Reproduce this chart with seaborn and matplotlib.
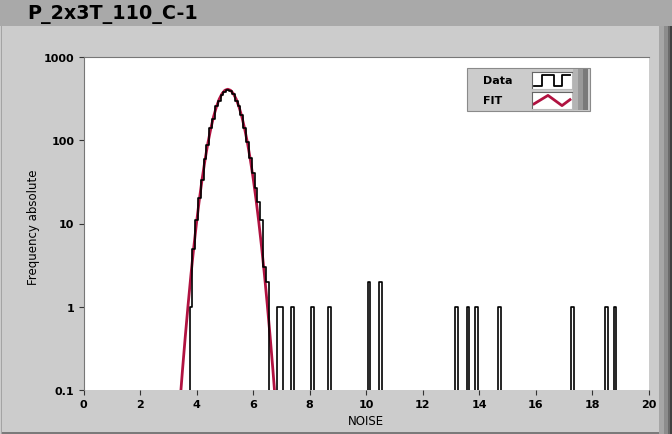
import matplotlib
matplotlib.use("Agg")
import matplotlib.pyplot as plt
from matplotlib.patches import Rectangle
from matplotlib.ticker import NullLocator
import pandas as pd
import seaborn as sns

# ---------------------------------------------------------------------------
# Data
# ---------------------------------------------------------------------------

# Histogram bins (centres, bin width 0.1) and absolute frequencies
noise_bins = [3.8, 3.9, 4.0, 4.1, 4.2, 4.3, 4.4, 4.5, 4.6, 4.7,
              4.8, 4.9, 5.0, 5.1, 5.2, 5.3, 5.4, 5.5, 5.6, 5.7,
              5.8, 5.9, 6.0, 6.1, 6.2, 6.3, 6.4, 6.5,
              6.9, 7.0, 7.4, 8.1, 8.7, 10.1, 10.5,
              13.2, 13.6, 13.9, 14.7, 17.3, 18.5, 18.8]
noise_counts = [1, 5, 11, 20, 33, 60, 88, 140, 180, 255,
                300, 350, 385, 405, 395, 360, 300, 255, 200, 140,
                95, 62, 40, 27, 18, 11, 3, 2,
                1, 1, 1, 1, 1, 2, 2,
                1, 1, 1, 1, 1, 1, 1]

# Gaussian fit curve
fit_x = [3.4, 3.5, 3.6, 3.7, 3.8, 3.9, 4.0, 4.1, 4.2, 4.3, 4.4, 4.5,
         4.6, 4.7, 4.8, 4.9, 5.0, 5.1, 5.2, 5.3, 5.4, 5.5, 5.6, 5.7,
         5.8, 5.9, 6.0, 6.1, 6.2, 6.3, 6.4, 6.5, 6.6, 6.7, 6.8]
fit_y = [0.063, 0.172, 0.44, 1.06, 2.42, 5.17, 10.4, 19.7, 35.0, 58.7, 92.6, 137,
         192, 252, 312, 363, 398, 410, 398, 363, 312, 252, 192, 137,
         92.6, 58.7, 35.0, 19.7, 10.4, 5.17, 2.42, 1.06, 0.44, 0.172, 0.063]

# Axis ticks
x_ticks = [0, 2, 4, 6, 8, 10, 12, 14, 16, 18, 20]
y_ticks = [0.1, 1, 10, 100, 1000]
y_tick_labels = ["0.1", "1", "10", "100", "1000"]

TITLE = "P_2x3T_110_C-1"
legend_labels = ["Data", "FIT"]

# ---------------------------------------------------------------------------
# Styling
# ---------------------------------------------------------------------------

W, H = 672, 435
PANEL = "#cccccc"
TITLE_BAR = "#a9a9a9"
FIT_RED = "#b01240"


def px_rect(x0, y0, x1, y1):
    # Pixel box (origin top-left) -> figure fraction [left, bottom, w, h]
    return [x0 / W, 1 - y1 / H, (x1 - x0) / W, (y1 - y0) / H]


def add_box(fig, x0, y0, x1, y1, color, zorder=1, edge="none"):
    l, b, w, h = px_rect(x0, y0, x1, y1)
    fig.add_artist(Rectangle((l, b), w, h, transform=fig.transFigure,
                             facecolor=color, edgecolor=edge, linewidth=0.8,
                             zorder=zorder))


fig = plt.figure(figsize=(W / 100, H / 100), dpi=100)
fig.patch.set_facecolor(PANEL)

# Panel decoration: title bar and bevelled borders
add_box(fig, 0, 0, W, 27, TITLE_BAR)
add_box(fig, 659, 27, 664, H, "#a6a6a6")
add_box(fig, 664, 27, 668, H, "#8c8c8c")
add_box(fig, 668, 27, 670, H, "#6a6a6a")
add_box(fig, 670, 27, 672, H, "#404040")
add_box(fig, 1, 27, 2, H, "#a4a4a4")
add_box(fig, 2, 433, 659, H, "#7a7a7a")
fig.text(27 / W, 1 - 14 / H, TITLE, fontsize=13.8, fontweight="bold",
         va="center", ha="left", color="black")

# ---------------------------------------------------------------------------
# Main plot
# ---------------------------------------------------------------------------

ax = fig.add_axes(px_rect(83.5, 58, 649, 391))
ax.set_facecolor("white")

hist_df = pd.DataFrame({"noise": noise_bins, "count": noise_counts})

sns.lineplot(x=fit_x, y=fit_y, ax=ax, color=FIT_RED, linewidth=2.0,
             zorder=2, legend=False)
sns.histplot(data=hist_df, x="noise", weights="count",
             binwidth=0.1, binrange=(-0.05, 20.05),
             element="step", fill=False, color="black", linewidth=1.2,
             ax=ax, zorder=3)

ax.set_yscale("log")
ax.set_xlim(0, 20)
ax.set_ylim(0.1, 1000)
ax.set_xticks(x_ticks)
ax.set_xticklabels([str(t) for t in x_ticks])
ax.set_yticks(y_ticks)
ax.set_yticklabels(y_tick_labels)
ax.yaxis.set_minor_locator(NullLocator())
ax.xaxis.set_minor_locator(NullLocator())
ax.set_xlabel("")
ax.set_ylabel("")

ax.tick_params(axis="both", direction="out", length=3.6, width=0.8,
               color="#333333", labelsize=8, pad=3.0, labelcolor="black")
for lbl in ax.get_xticklabels() + ax.get_yticklabels():
    lbl.set_fontweight("bold")

for side in ["top", "left"]:
    ax.spines[side].set_color("#777777")
    ax.spines[side].set_linewidth(0.8)
for side in ["bottom", "right"]:
    ax.spines[side].set_visible(False)

fig.text(33 / W, 1 - 227 / H, "Frequency absolute", rotation=90,
         fontsize=8.5, ha="center", va="center")
fig.text(366 / W, 1 - 422 / H, "NOISE", fontsize=8.5, ha="center",
         va="center")

# ---------------------------------------------------------------------------
# LabVIEW-style legend
# ---------------------------------------------------------------------------

add_box(fig, 467, 69, 590, 112, PANEL, zorder=4, edge="#8a8a8a")
add_box(fig, 573, 70, 578, 111, "#b4b4b4", zorder=4)
add_box(fig, 578, 70, 583, 111, "#999999", zorder=4)
add_box(fig, 583, 70, 588, 111, "#7a7a7a", zorder=4)

swatch_rows = [(73, 90), (93, 110)]
icon_shapes = [
    ([0.06, 0.25, 0.25, 0.55, 0.55, 0.75, 0.75, 0.94],
     [0.2, 0.2, 0.8, 0.8, 0.2, 0.2, 0.8, 0.8]),
    ([0.05, 0.4, 0.75, 0.95], [0.3, 0.8, 0.2, 0.55]),
]
icon_styles = [dict(color="black", linewidth=1.3),
               dict(color=FIT_RED, linewidth=2.0)]

for (y0, y1), label, (ix, iy), style in zip(swatch_rows, legend_labels,
                                            icon_shapes, icon_styles):
    sw = fig.add_axes(px_rect(532, y0, 572, y1), zorder=5)
    sw.set_facecolor("white")
    sw.plot(ix, iy, **style)
    sw.set_xlim(0, 1)
    sw.set_ylim(0, 1)
    sw.set_xticks([])
    sw.set_yticks([])
    for side in sw.spines:
        sw.spines[side].set_color("#bbbbbb")
        sw.spines[side].set_linewidth(0.8)
    for side in ["top", "left"]:
        sw.spines[side].set_color("#666666")
    fig.text(483 / W, 1 - (y0 + y1) / 2 / H, label, fontsize=8,
             fontweight="bold", va="center", ha="left", zorder=6)

fig.savefig("out.png", dpi=100, facecolor=fig.get_facecolor())
